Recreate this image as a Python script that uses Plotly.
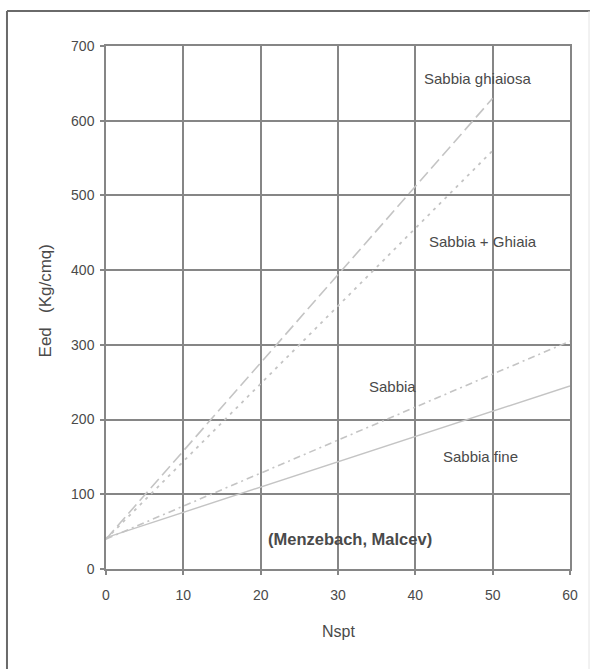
import plotly.graph_objects as go

# Menzenbach & Malcev correlations: Eed (Kg/cmq) vs Nspt
nspt_ghiaiosa = [0, 50]
eed_ghiaiosa = [40, 630]
nspt_ghiaia = [0, 50]
eed_ghiaia = [40, 560]
nspt_sabbia = [0, 60]
eed_sabbia = [40, 305]
nspt_fine = [0, 60]
eed_fine = [42, 245]

x_ticks = [0, 10, 20, 30, 40, 50, 60]
y_ticks = [0, 100, 200, 300, 400, 500, 600, 700]

labels = ["Sabbia ghiaiosa", "Sabbia + Ghiaia", "Sabbia", "Sabbia fine"]
label_x = [48.0, 48.8, 37.0, 48.4]
label_y = [657, 438, 244, 151]

line_col = "#c4c4c4"
grid_col = "#868686"
text_col = "#4a4a4a"
font_family = "Liberation Sans, Arial, sans-serif"

fig = go.Figure()
fig.add_trace(go.Scatter(x=nspt_ghiaiosa, y=eed_ghiaiosa, mode="lines",
                         line=dict(color=line_col, width=1.6, dash="12px,5px")))
fig.add_trace(go.Scatter(x=nspt_ghiaia, y=eed_ghiaia, mode="lines",
                         line=dict(color=line_col, width=1.8, dash="3px,5px")))
fig.add_trace(go.Scatter(x=nspt_sabbia, y=eed_sabbia, mode="lines",
                         line=dict(color=line_col, width=1.6, dash="7px,4px,2px,4px")))
fig.add_trace(go.Scatter(x=nspt_fine, y=eed_fine, mode="lines",
                         line=dict(color=line_col, width=1.4)))

annotations = []
for t, lx, ly in zip(labels, label_x, label_y):
    annotations.append(dict(x=lx, y=ly, xref="x", yref="y", text=t, showarrow=False,
                            xanchor="center", yanchor="middle",
                            font=dict(size=15, color=text_col, family=font_family)))
annotations.append(dict(x=31.5, y=40, xref="x", yref="y", text="<b>(Menzebach, Malcev)</b>",
                        showarrow=False, xanchor="center", yanchor="middle",
                        font=dict(size=16.5, color=text_col, family=font_family)))
annotations.append(dict(x=-0.131, y=0.512, xref="paper", yref="paper",
                        text="Eed&nbsp;&nbsp;&nbsp;(Kg/cmq)",
                        textangle=-90, showarrow=False, xanchor="center", yanchor="middle",
                        font=dict(size=17, color=text_col, family=font_family)))
annotations.append(dict(x=0.5, y=-0.12, xref="paper", yref="paper", text="Nspt",
                        showarrow=False, xanchor="center", yanchor="middle",
                        font=dict(size=16, color=text_col, family=font_family)))

axis_common = dict(showgrid=True, gridcolor=grid_col, gridwidth=1.5,
                   showline=True, linecolor=grid_col, linewidth=1.5, mirror=True,
                   zeroline=False, ticks="outside", ticklen=4, tickcolor=grid_col,
                   tickwidth=1.5,
                   tickfont=dict(size=14, color=text_col, family=font_family))

fig.update_layout(
    width=593, height=669,
    margin=dict(l=106, r=23, t=46, b=100),
    paper_bgcolor="white", plot_bgcolor="white",
    showlegend=False,
    xaxis=dict(range=[0, 60], tickvals=x_ticks, ticklabelstandoff=8, **axis_common),
    yaxis=dict(range=[0, 700], tickvals=y_ticks, ticklabelstandoff=3, **axis_common),
    annotations=annotations,
    shapes=[
        # outer frame around the figure
        dict(type="line", xref="paper", yref="paper", x0=-0.2134, x1=-0.2134,
             y0=1.0669, y1=-0.20, line=dict(color="#6a6a6a", width=2)),
        dict(type="line", xref="paper", yref="paper", x0=-0.2134, x1=1.043,
             y0=1.0669, y1=1.0669, line=dict(color="#6a6a6a", width=2)),
        dict(type="line", xref="paper", yref="paper", x0=1.041, x1=1.041,
             y0=1.0669, y1=-0.20, line=dict(color="#e4e4e4", width=1)),
    ],
)

fig.write_html("out.html")
